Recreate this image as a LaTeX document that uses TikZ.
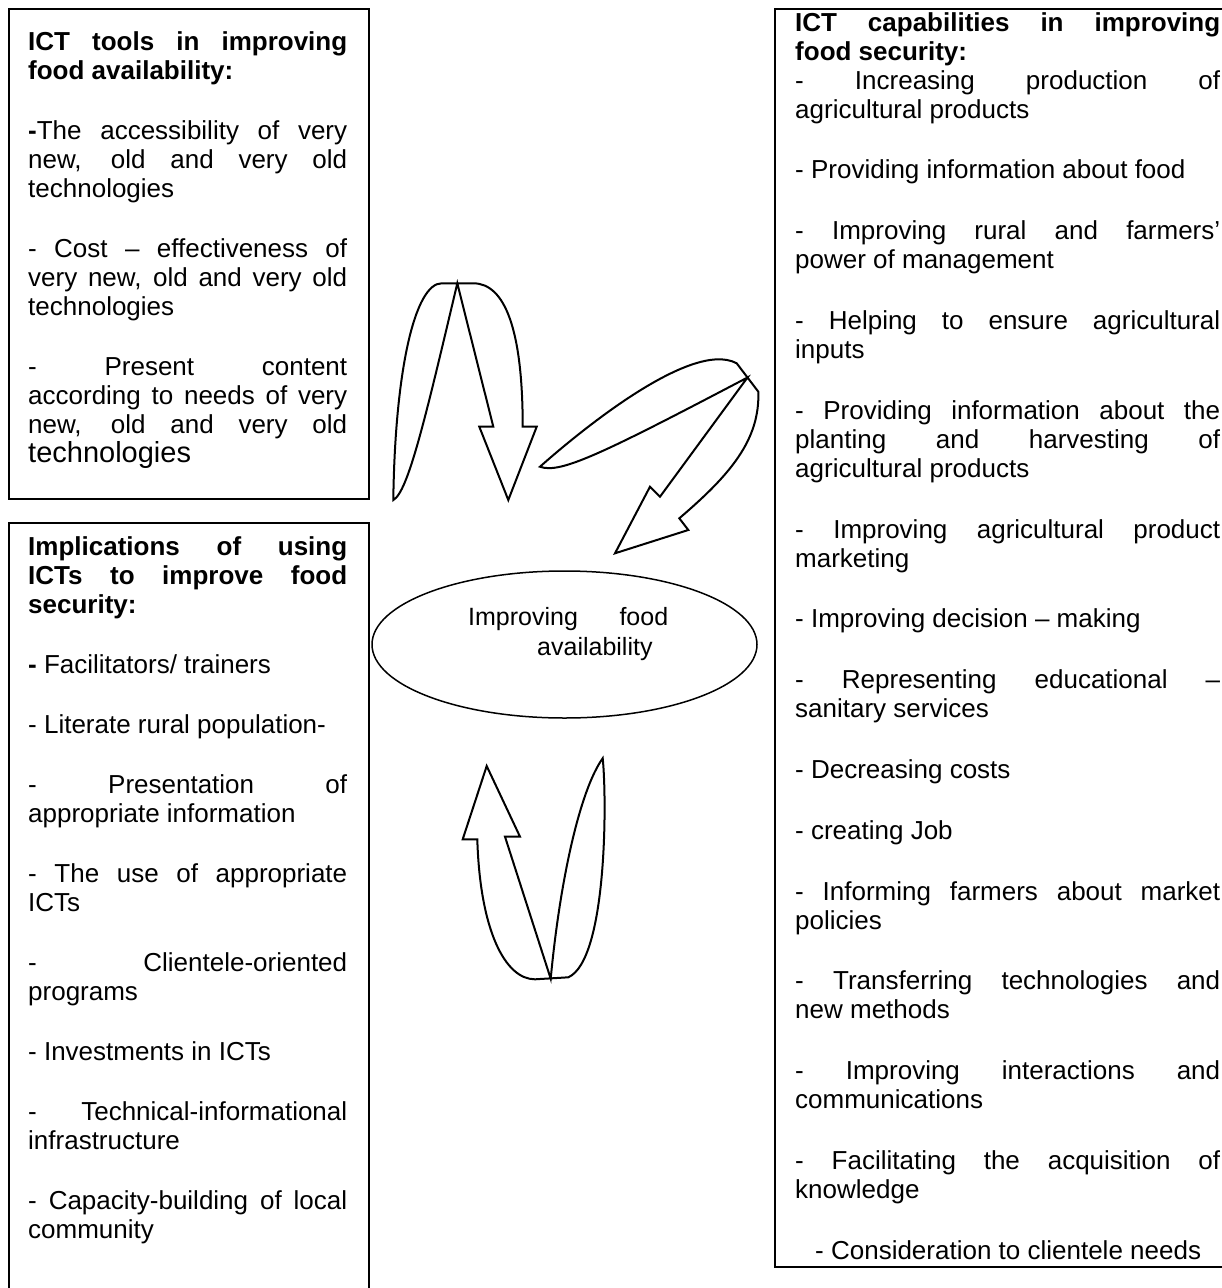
\documentclass[tikz,border=0pt]{standalone}
\usepackage{fontspec}
\setmainfont{Liberation Sans}
\usetikzlibrary{shapes.geometric}
\newcommand\itemgap[1][31pt]{\par\vspace{#1}}
\newcommand\boxprep{\tolerance=10000 \pretolerance=-1 \hbadness=10000 \hyphenpenalty=10000 \exhyphenpenalty=10000 \parindent=0pt\relax}
\begin{document}
\begin{tikzpicture}[x=1pt,y=-1pt,
  frame/.style={line width=2pt},
  blockarrow/.style={line width=2pt, fill=white, line join=miter},
  bodytext/.style={anchor=base west, inner sep=0pt, align=justify, font=\fontsize{26}{29}\selectfont},
]
\useasboundingbox (0,0) rectangle (1222,1288);

% ---------- box 1 : ICT tools ----------
\draw[frame] (9,9) rectangle (369,499);
\node[bodytext, text width=319pt] (tools) at (28,50) {\boxprep
{\bfseries ICT tools in improving\linebreak food availability:}\itemgap
{\bfseries -}The accessibility of very\linebreak new, old and very old\linebreak technologies\itemgap
- Cost – effectiveness of\linebreak very new, old and very old\linebreak technologies\itemgap
- Present content\linebreak according to needs of very\linebreak new, old and very old\linebreak {\fontsize{29}{29}\selectfont technologies}\par};

% ---------- box 2 : implications ----------
\draw[frame] (9,1288) -- (9,523) -- (369,523) -- (369,1288);
\node[bodytext, text width=319pt] (impl) at (28,555) {\boxprep
{\bfseries Implications of using\linebreak ICTs to improve food\linebreak security:}\itemgap
{\bfseries -} Facilitators/ trainers\itemgap
- Literate rural population-\itemgap
- Presentation of\linebreak appropriate information\itemgap
- The use of appropriate\linebreak ICTs\itemgap
- Clientele-oriented\linebreak programs\itemgap
- Investments in ICTs\itemgap
- Technical-informational\linebreak infrastructure\itemgap
- Capacity-building of local\linebreak community\par};

% ---------- right box : capabilities ----------
\draw[frame] (1222,9) -- (775,9) -- (775,1267) -- (1222,1267);
\node[bodytext, text width=425pt] (capab) at (795,31) {\boxprep
{\bfseries ICT capabilities in improving\linebreak food security:}\newline
- Increasing production of\linebreak agricultural products\itemgap[31.8pt]
- Providing information about food\itemgap[31.8pt]
- Improving rural and farmers’\linebreak power of management\itemgap[31.8pt]
- Helping to ensure agricultural\linebreak inputs\itemgap[31.8pt]
- Providing information about the\linebreak planting and harvesting of\linebreak agricultural products\itemgap[31.8pt]
- Improving agricultural product\linebreak marketing\itemgap[31.8pt]
- Improving decision – making\itemgap[31.8pt]
- Representing educational –\linebreak sanitary services\itemgap[31.8pt]
- Decreasing costs\itemgap[31.8pt]
- creating Job\itemgap[31.8pt]
- Informing farmers about market\linebreak policies\itemgap[31.8pt]
- Transferring technologies and\linebreak new methods\itemgap[31.8pt]
- Improving interactions and\linebreak communications\itemgap[31.8pt]
- Facilitating the acquisition of\linebreak knowledge\itemgap[31.8pt]
\hspace*{20pt}- Consideration to clientele needs\par};

% ---------- central ellipse ----------
\node[ellipse, draw, line width=1.5pt, minimum width=385pt, minimum height=147pt, inner sep=0pt] (avail) at (564.5,644.5) {};
\node[anchor=base west, inner sep=0pt, text width=200pt, align=justify, font=\fontsize{25}{30}\selectfont] (availtext) at (468,625) {\boxprep Improving food\linebreak\hspace*{69pt}availability\par};

% ---------- curved block arrows ----------
% top arrow, pointing down
\draw[blockarrow] (441.7,283.3) .. controls (415,283.3) and (395,370) .. (393.3,500)
  .. controls (408,492) and (425,420) .. (457.3,283.3)
  -- (493.3,426.7) -- (479.3,426.7) -- (508.3,500) -- (536.7,426.7) -- (522.7,426.7)
  .. controls (522.7,330) and (505,283.3) .. (473.3,283.3) -- cycle;
% right arrow, pointing down-left
\draw[blockarrow] (736.7,363.3) .. controls (690,338) and (570,440) .. (540,466.7)
  .. controls (560,474) and (600,455) .. (747.5,377.5)
  -- (660,496.7) -- (650,486.7) -- (615,553.3) -- (688.3,530) -- (679.3,518.3)
  .. controls (730,475) and (760,440) .. (758.3,391.7) -- cycle;
% bottom arrow, pointing up
\draw[blockarrow] (535,979.3) .. controls (505,979.3) and (480,930) .. (477.3,839.3)
  -- (462.7,839.3) -- (486.7,766) -- (520,836.7) -- (505,836.7) -- (550.7,978.7)
  .. controls (560,880) and (580,790) .. (602.7,758.3)
  .. controls (607,800) and (607,960) .. (568.3,977.3) -- cycle;
\end{tikzpicture}
\end{document}
